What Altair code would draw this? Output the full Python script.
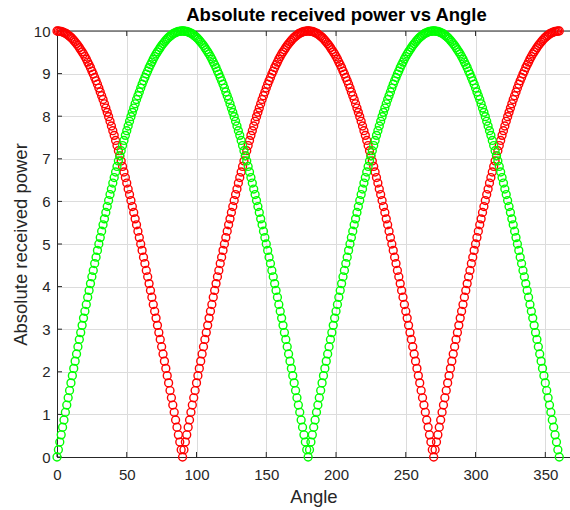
import altair as alt
import pandas as pd

# Angle samples (degrees), one per degree
angles = list(range(0, 361))

# Values (red = first series, green = second series)
red_power = [
    10.00, 10.00, 9.99, 9.99, 9.98, 9.96, 9.95, 9.93, 9.90, 9.88, 9.85, 9.82, 9.78, 9.74, 9.70, 9.66,
    9.61, 9.56, 9.51, 9.46, 9.40, 9.34, 9.27, 9.21, 9.14, 9.06, 8.99, 8.91, 8.83, 8.75, 8.66, 8.57,
    8.48, 8.39, 8.29, 8.19, 8.09, 7.99, 7.88, 7.77, 7.66, 7.55, 7.43, 7.31, 7.19, 7.07, 6.95, 6.82,
    6.69, 6.56, 6.43, 6.29, 6.16, 6.02, 5.88, 5.74, 5.59, 5.45, 5.30, 5.15, 5.00, 4.85, 4.69, 4.54,
    4.38, 4.23, 4.07, 3.91, 3.75, 3.58, 3.42, 3.26, 3.09, 2.92, 2.76, 2.59, 2.42, 2.25, 2.08, 1.91,
    1.74, 1.56, 1.39, 1.22, 1.05, 0.87, 0.70, 0.52, 0.35, 0.17, 0.00,
    0.17, 0.35, 0.52, 0.70, 0.87, 1.05, 1.22, 1.39, 1.56, 1.74, 1.91, 2.08, 2.25, 2.42, 2.59, 2.76,
    2.92, 3.09, 3.26, 3.42, 3.58, 3.75, 3.91, 4.07, 4.23, 4.38, 4.54, 4.69, 4.85, 5.00, 5.15, 5.30,
    5.45, 5.59, 5.74, 5.88, 6.02, 6.16, 6.29, 6.43, 6.56, 6.69, 6.82, 6.95, 7.07, 7.19, 7.31, 7.43,
    7.55, 7.66, 7.77, 7.88, 7.99, 8.09, 8.19, 8.29, 8.39, 8.48, 8.57, 8.66, 8.75, 8.83, 8.91, 8.99,
    9.06, 9.14, 9.21, 9.27, 9.34, 9.40, 9.46, 9.51, 9.56, 9.61, 9.66, 9.70, 9.74, 9.78, 9.82, 9.85,
    9.88, 9.90, 9.93, 9.95, 9.96, 9.98, 9.99, 9.99, 10.00, 10.00,
    10.00, 9.99, 9.99, 9.98, 9.96, 9.95, 9.93, 9.90, 9.88, 9.85, 9.82, 9.78, 9.74, 9.70, 9.66,
    9.61, 9.56, 9.51, 9.46, 9.40, 9.34, 9.27, 9.21, 9.14, 9.06, 8.99, 8.91, 8.83, 8.75, 8.66, 8.57,
    8.48, 8.39, 8.29, 8.19, 8.09, 7.99, 7.88, 7.77, 7.66, 7.55, 7.43, 7.31, 7.19, 7.07, 6.95, 6.82,
    6.69, 6.56, 6.43, 6.29, 6.16, 6.02, 5.88, 5.74, 5.59, 5.45, 5.30, 5.15, 5.00, 4.85, 4.69, 4.54,
    4.38, 4.23, 4.07, 3.91, 3.75, 3.58, 3.42, 3.26, 3.09, 2.92, 2.76, 2.59, 2.42, 2.25, 2.08, 1.91,
    1.74, 1.56, 1.39, 1.22, 1.05, 0.87, 0.70, 0.52, 0.35, 0.17, 0.00,
    0.17, 0.35, 0.52, 0.70, 0.87, 1.05, 1.22, 1.39, 1.56, 1.74, 1.91, 2.08, 2.25, 2.42, 2.59, 2.76,
    2.92, 3.09, 3.26, 3.42, 3.58, 3.75, 3.91, 4.07, 4.23, 4.38, 4.54, 4.69, 4.85, 5.00, 5.15, 5.30,
    5.45, 5.59, 5.74, 5.88, 6.02, 6.16, 6.29, 6.43, 6.56, 6.69, 6.82, 6.95, 7.07, 7.19, 7.31, 7.43,
    7.55, 7.66, 7.77, 7.88, 7.99, 8.09, 8.19, 8.29, 8.39, 8.48, 8.57, 8.66, 8.75, 8.83, 8.91, 8.99,
    9.06, 9.14, 9.21, 9.27, 9.34, 9.40, 9.46, 9.51, 9.56, 9.61, 9.66, 9.70, 9.74, 9.78, 9.82, 9.85,
    9.88, 9.90, 9.93, 9.95, 9.96, 9.98, 9.99, 9.99, 10.00, 10.00,
]

green_power = [
    0.00,
    0.17, 0.35, 0.52, 0.70, 0.87, 1.05, 1.22, 1.39, 1.56, 1.74, 1.91, 2.08, 2.25, 2.42, 2.59, 2.76,
    2.92, 3.09, 3.26, 3.42, 3.58, 3.75, 3.91, 4.07, 4.23, 4.38, 4.54, 4.69, 4.85, 5.00, 5.15, 5.30,
    5.45, 5.59, 5.74, 5.88, 6.02, 6.16, 6.29, 6.43, 6.56, 6.69, 6.82, 6.95, 7.07, 7.19, 7.31, 7.43,
    7.55, 7.66, 7.77, 7.88, 7.99, 8.09, 8.19, 8.29, 8.39, 8.48, 8.57, 8.66, 8.75, 8.83, 8.91, 8.99,
    9.06, 9.14, 9.21, 9.27, 9.34, 9.40, 9.46, 9.51, 9.56, 9.61, 9.66, 9.70, 9.74, 9.78, 9.82, 9.85,
    9.88, 9.90, 9.93, 9.95, 9.96, 9.98, 9.99, 9.99, 10.00, 10.00,
    10.00, 9.99, 9.99, 9.98, 9.96, 9.95, 9.93, 9.90, 9.88, 9.85, 9.82, 9.78, 9.74, 9.70, 9.66,
    9.61, 9.56, 9.51, 9.46, 9.40, 9.34, 9.27, 9.21, 9.14, 9.06, 8.99, 8.91, 8.83, 8.75, 8.66, 8.57,
    8.48, 8.39, 8.29, 8.19, 8.09, 7.99, 7.88, 7.77, 7.66, 7.55, 7.43, 7.31, 7.19, 7.07, 6.95, 6.82,
    6.69, 6.56, 6.43, 6.29, 6.16, 6.02, 5.88, 5.74, 5.59, 5.45, 5.30, 5.15, 5.00, 4.85, 4.69, 4.54,
    4.38, 4.23, 4.07, 3.91, 3.75, 3.58, 3.42, 3.26, 3.09, 2.92, 2.76, 2.59, 2.42, 2.25, 2.08, 1.91,
    1.74, 1.56, 1.39, 1.22, 1.05, 0.87, 0.70, 0.52, 0.35, 0.17, 0.00,
    0.17, 0.35, 0.52, 0.70, 0.87, 1.05, 1.22, 1.39, 1.56, 1.74, 1.91, 2.08, 2.25, 2.42, 2.59, 2.76,
    2.92, 3.09, 3.26, 3.42, 3.58, 3.75, 3.91, 4.07, 4.23, 4.38, 4.54, 4.69, 4.85, 5.00, 5.15, 5.30,
    5.45, 5.59, 5.74, 5.88, 6.02, 6.16, 6.29, 6.43, 6.56, 6.69, 6.82, 6.95, 7.07, 7.19, 7.31, 7.43,
    7.55, 7.66, 7.77, 7.88, 7.99, 8.09, 8.19, 8.29, 8.39, 8.48, 8.57, 8.66, 8.75, 8.83, 8.91, 8.99,
    9.06, 9.14, 9.21, 9.27, 9.34, 9.40, 9.46, 9.51, 9.56, 9.61, 9.66, 9.70, 9.74, 9.78, 9.82, 9.85,
    9.88, 9.90, 9.93, 9.95, 9.96, 9.98, 9.99, 9.99, 10.00, 10.00,
    10.00, 9.99, 9.99, 9.98, 9.96, 9.95, 9.93, 9.90, 9.88, 9.85, 9.82, 9.78, 9.74, 9.70, 9.66,
    9.61, 9.56, 9.51, 9.46, 9.40, 9.34, 9.27, 9.21, 9.14, 9.06, 8.99, 8.91, 8.83, 8.75, 8.66, 8.57,
    8.48, 8.39, 8.29, 8.19, 8.09, 7.99, 7.88, 7.77, 7.66, 7.55, 7.43, 7.31, 7.19, 7.07, 6.95, 6.82,
    6.69, 6.56, 6.43, 6.29, 6.16, 6.02, 5.88, 5.74, 5.59, 5.45, 5.30, 5.15, 5.00, 4.85, 4.69, 4.54,
    4.38, 4.23, 4.07, 3.91, 3.75, 3.58, 3.42, 3.26, 3.09, 2.92, 2.76, 2.59, 2.42, 2.25, 2.08, 1.91,
    1.74, 1.56, 1.39, 1.22, 1.05, 0.87, 0.70, 0.52, 0.35, 0.17, 0.00,
]

x_ticks = [0, 50, 100, 150, 200, 250, 300, 350]
y_ticks = [0, 1, 2, 3, 4, 5, 6, 7, 8, 9, 10]

# the picture is cropped on the right: the axis continues past the image edge
W, H = 513, 426
X_MAX = 367.7
FONT = "Liberation Sans"
AXIS_COL = "#262626"

red_df = pd.DataFrame({"Angle": angles[: len(red_power)], "Power": red_power})
green_df = pd.DataFrame({"Angle": angles[: len(green_power)], "Power": green_power})
xt_df = pd.DataFrame({"t": x_ticks})
yt_df = pd.DataFrame({"t": y_ticks})
frame_df = pd.DataFrame({"k": [0]})

x_scale = alt.Scale(domain=[0, X_MAX], nice=False, zero=False)
y_scale = alt.Scale(domain=[0, 10], nice=False)

x_axis = alt.Axis(
    title="Angle", values=x_ticks, grid=True, ticks=False, labelPadding=10,
    labelFontSize=15, titleFontSize=18.5, titlePadding=5, labelFlush=False,
)
y_axis = alt.Axis(
    title="Absolute received power", values=y_ticks, grid=True, ticks=False,
    labelPadding=7, labelFontSize=15, titleFontSize=18.5, titlePadding=3, labelFlush=False,
)

X = alt.X("Angle:Q", scale=x_scale, axis=x_axis)
Y = alt.Y("Power:Q", scale=y_scale, axis=y_axis)

# inner ticks (bottom / top / left) drawn from the tick arrays
xt_bottom = alt.Chart(xt_df).transform_calculate(Angle="datum.t").mark_rule(
    color=AXIS_COL, strokeWidth=1).encode(x=X, y=alt.value(H), y2=alt.value(H - 5))
xt_top = alt.Chart(xt_df).transform_calculate(Angle="datum.t").mark_rule(
    color=AXIS_COL, strokeWidth=1).encode(x=X, y=alt.value(0), y2=alt.value(5))
yt_left = alt.Chart(yt_df).transform_calculate(Power="datum.t").mark_rule(
    color=AXIS_COL, strokeWidth=1).encode(y=Y, x=alt.value(0), x2=alt.value(5))
top_line = alt.Chart(frame_df).mark_rule(color=AXIS_COL, strokeWidth=1).encode(
    x=alt.value(0), x2=alt.value(W), y=alt.value(0))

red = alt.Chart(red_df).mark_point(
    shape="circle", filled=False, color="#ff0000", size=62, strokeWidth=1.4, opacity=1
).encode(x=X, y=Y)
green = alt.Chart(green_df).mark_point(
    shape="circle", filled=False, color="#00ff00", size=62, strokeWidth=1.4, opacity=1
).encode(x=X, y=Y)

chart = alt.layer(xt_bottom, xt_top, yt_left, top_line, red, green).properties(
    width=W, height=H,
    title=alt.Title("Absolute received power vs Angle", fontSize=18.5, fontWeight="bold",
                    font=FONT, color="#000000", anchor="middle", offset=0, dx=23),
    autosize=alt.AutoSizeParams(type="none"),
    padding={"left": 57, "top": 31, "right": 0, "bottom": 53},
).configure(
    font=FONT, background="#ffffff",
).configure_view(
    strokeWidth=0,
).configure_axis(
    labelFont=FONT, titleFont=FONT, labelColor=AXIS_COL, titleColor=AXIS_COL,
    titleFontWeight="normal", domainColor=AXIS_COL, domainWidth=1,
    gridColor="#dcdcdc", gridWidth=1,
)

chart.save("out.html", embed_options={"renderer": "svg", "actions": False})
